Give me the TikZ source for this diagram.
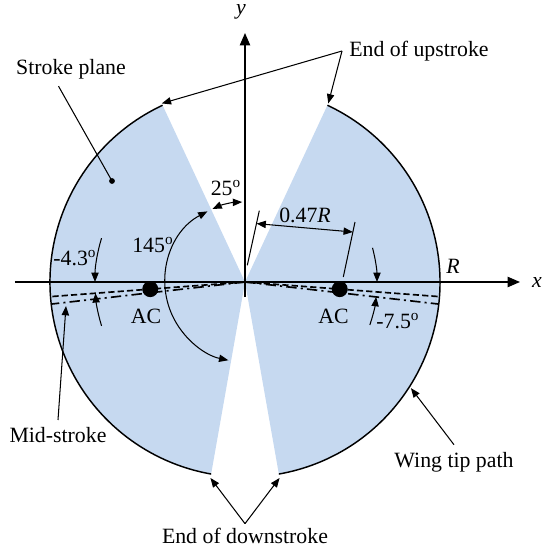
\documentclass[tikz,border=0pt]{standalone}
\usepackage{fontspec}
\setmainfont{Liberation Serif}
\usepackage{xcolor}
\usetikzlibrary{arrows.meta, positioning}

\definecolor{planeblue}{RGB}{198,217,240}
\newcommand{\tipR}{19.5}

\begin{document}
\begin{tikzpicture}[
    x=0.1692cm, y=0.1692cm,
    font=\fontsize{10.5}{12}\selectfont,
    rim/.style={line width=0.7pt},
    axis/.style={line width=0.7pt, -{Triangle[length=6pt, width=5pt]}},
    arrow/.style={line width=0.5pt, -{Triangle[length=4.5pt, width=3.5pt]}},
    twoway/.style={line width=0.5pt, {Triangle[length=4.5pt, width=3.5pt]}-{Triangle[length=4.5pt, width=3.5pt]}},
    leader/.style={line width=0.5pt},
    mid/.style={line width=0.8pt, dash pattern=on 3pt off 1.5pt},
    tipline/.style={line width=0.8pt, dash pattern=on 5pt off 2pt on 1pt off 2pt},
    ac/.style={circle, fill=black, inner sep=0pt, minimum size=7.7pt},
    dot/.style={circle, fill=black, inner sep=0pt, minimum size=2.8pt}
]
\useasboundingbox (-24.5,-26.7) rectangle (29.7,28.2);

\coordinate (O) at (0,0);

% stroke plane
\fill[planeblue] (O) -- (115:\tipR) arc[start angle=115, end angle=260, radius=\tipR] -- cycle;
\fill[planeblue] (O) -- (-80:\tipR) arc[start angle=-80, end angle=65, radius=\tipR] -- cycle;
\draw[rim] (115:\tipR) arc[start angle=115, end angle=260, radius=\tipR];
\draw[rim] (-80:\tipR) arc[start angle=-80, end angle=65, radius=\tipR];

% axes
\coordinate (xs) at (-23,0);
\coordinate (xe) at (27.5,0);
\coordinate (ys) at (0,-1.5);
\coordinate (ye) at (0,24.9);
\draw[axis] (xs) -- (xe);
\draw[axis] (ys) -- (ye);
\node (xlab) at (29.2,0) {\textit{x}};
\node (ylab) at (-0.4,27.0) {\textit{y}};
\node (rlab) at (20.8,1.6) {\textit{R}};

% mid-stroke lines
\coordinate (midL) at (184.3:\tipR);
\coordinate (midR) at (-4.3:\tipR);
\coordinate (dotL) at (186.5:\tipR);
\coordinate (dotR) at (-6.5:\tipR);
\draw[mid] (O) -- (midL);
\draw[mid] (O) -- (midR);
\draw[tipline] (O) -- (dotL);
\draw[tipline] (O) -- (dotR);

\node[ac] (acL) at (184.3:9.5) {};
\node[ac] (acR) at (-4.3:9.5) {};
\node[below=2pt of acL, xshift=-2pt] (acLlab) {AC};
\node[below=2pt of acR, xshift=-3pt] (acRlab) {AC};

% angles
\draw[arrow] (163:15) arc[start angle=163, end angle=180, radius=15];
\draw[arrow] (197:15) arc[start angle=197, end angle=184.3, radius=15];
\node (angL) at (-17.0,2.4) {-4.3\textsuperscript{o}};
\draw[arrow] (15:13.2) arc[start angle=15, end angle=0, radius=13.2];
\draw[arrow] (-19:13.2) arc[start angle=-19, end angle=-6.5, radius=13.2];
\node (angR) at (15.3,-3.9) {-7.5\textsuperscript{o}};

\draw[twoway] (114:8.0) arc[start angle=114, end angle=92, radius=8.0];
\node (ang25) at (-1.9,9.4) {25\textsuperscript{o}};
\draw[twoway] (118:8.0) arc[start angle=118, end angle=258, radius=8.0];
\node (ang145) at (-9.2,3.7) {145\textsuperscript{o}};

% 0.47R
\coordinate (ext1a) at (0.23,1.67);
\coordinate (ext1b) at (1.43,7.13);
\coordinate (ext2a) at (9.83,0.5);
\coordinate (ext2b) at (11.0,6.0);
\coordinate (dimA) at (1.15,5.84);
\coordinate (dimB) at (10.79,5.0);
\draw[leader] (ext1a) -- (ext1b);
\draw[leader] (ext2a) -- (ext2b);
\draw[twoway] (dimA) -- (dimB);
\node (dimlab) at (6.0,6.7) {0.47\textit{R}};

% callouts
\node (plane) at (-17.4,21.3) {Stroke plane};
\node[dot] (planedot) at (-13.3,10.1) {};
\draw[leader] ([xshift=-6pt]plane.south) -- (planedot.center);

\node (upstroke) at (17.4,23.1) {End of upstroke};
\coordinate (upL) at (115:19.7);
\coordinate (upR) at (65:19.7);
\draw[arrow] (upstroke.west) -- (upL);
\draw[arrow] (upstroke.west) -- (upR);

\node[inner sep=2pt] (downstroke) at (0,-25.4) {End of downstroke};
\coordinate (downL) at (260:19.9);
\coordinate (downR) at (280:19.9);
\draw[arrow] (downstroke.north) -- (downL);
\draw[arrow] (downstroke.north) -- (downR);

\node (midstroke) at (-18.7,-15.3) {Mid-stroke};
\coordinate (midtip) at (-17.9,-2.4);
\draw[arrow] (midstroke.north) -- (midtip);

\node (tippath) at (20.9,-18.0) {Wing tip path};
\coordinate (pathtip) at (-32.6:19.7);
\draw[arrow] (tippath.north) -- (pathtip);

\end{tikzpicture}
\end{document}
